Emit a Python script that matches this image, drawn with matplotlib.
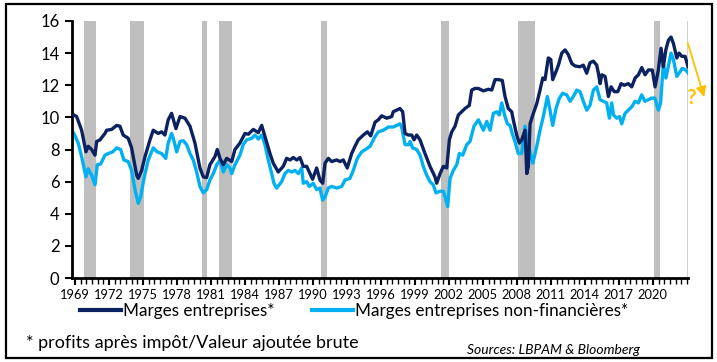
import matplotlib.pyplot as plt
from matplotlib.patches import Rectangle
from matplotlib.ticker import MultipleLocator

plt.rcParams['font.family'] = ['Lato', 'DejaVu Sans']

# Marges entreprises (after-tax profits / gross value added, %)
years_all = [1968.91, 1969.15, 1969.59, 1969.97, 1970.17, 1970.47, 1970.77, 1970.92, 1971.21, 1971.65,
             1971.80, 1972.24, 1972.68, 1972.97, 1973.26, 1973.70, 1974.00, 1974.45, 1974.59, 1974.89,
             1975.18, 1975.62, 1975.91, 1976.35, 1976.65, 1976.94, 1977.23, 1977.53, 1977.91, 1978.27,
             1978.71, 1979.15, 1979.59, 1980.03, 1980.32, 1980.62, 1980.91, 1981.35, 1981.56, 1981.80,
             1982.09, 1982.39, 1982.83, 1983.12, 1983.56, 1984.00, 1984.30, 1984.74, 1985.18, 1985.48,
             1985.77, 1986.21, 1986.50, 1986.94, 1987.38, 1987.68, 1987.98, 1988.27, 1988.57, 1988.86,
             1989.15, 1989.45, 1989.74, 1989.97, 1990.33, 1990.62, 1990.86, 1991.07, 1991.36, 1991.66,
             1992.10, 1992.39, 1992.68, 1993.03, 1993.42, 1993.71, 1994.00, 1994.45, 1994.80, 1995.10,
             1995.48, 1995.77, 1996.07, 1996.51, 1996.95, 1997.09, 1997.39, 1997.68, 1997.92, 1998.13,
             1998.42, 1998.72, 1998.92, 1999.16, 1999.45, 1999.89, 2000.33, 2000.77, 2000.92, 2001.22,
             2001.51, 2001.81, 2002.04, 2002.25, 2002.54, 2002.83, 2003.13, 2003.42, 2003.80, 2004.01,
             2004.30, 2004.60, 2005.04, 2005.48, 2005.78, 2006.07, 2006.36, 2006.71, 2006.95, 2007.24,
             2007.54, 2007.68, 2007.98, 2008.21, 2008.42, 2008.72, 2008.87, 2009.01, 2009.16, 2009.45,
             2009.75, 2010.04, 2010.28, 2010.48, 2010.77, 2010.99, 2011.16, 2011.45, 2011.66, 2011.96,
             2012.25, 2012.54, 2012.84, 2013.13, 2013.57, 2013.86, 2014.16, 2014.45, 2014.75, 2015.04,
             2015.19, 2015.34, 2015.49, 2015.78, 2016.07, 2016.31, 2016.60, 2016.90, 2017.19, 2017.48,
             2017.83, 2018.13, 2018.43, 2018.72, 2019.02, 2019.31, 2019.60, 2019.95, 2020.19, 2020.48,
             2020.72, 2020.92, 2021.14, 2021.37, 2021.60, 2021.81, 2022.11, 2022.31, 2022.55, 2022.84,
             2023.10]
marges_all = [10.15, 10.05, 9.2, 7.86, 8.2, 8.0, 7.65, 8.5, 8.6, 9.0,
              9.2, 9.25, 9.5, 9.45, 8.9, 8.7, 8.1, 6.4, 6.2, 6.7,
              7.55, 8.6, 9.2, 9.0, 9.1, 8.9, 9.85, 10.25, 9.3, 10.05,
              9.95, 9.45, 8.4, 6.85, 6.3, 6.25, 7.05, 7.55, 8.0, 7.45,
              7.05, 7.45, 7.25, 8.0, 8.4, 9.0, 8.95, 9.25, 9.05, 9.5,
              8.8, 7.75, 7.15, 6.6, 6.95, 7.45, 7.35, 7.5, 7.35, 7.5,
              6.95, 6.95, 6.5, 6.15, 6.85, 6.1, 5.9, 7.15, 7.45, 7.25,
              7.35, 7.25, 7.35, 6.85, 7.75, 8.2, 8.6, 8.9, 9.1, 8.85,
              9.7, 9.85, 10.1, 9.95, 10.05, 10.35, 10.45, 10.55, 10.35, 9.0,
              8.9, 8.9, 8.6, 8.9, 8.6, 7.75, 6.95, 6.3, 5.9, 6.5,
              6.95, 6.85, 8.6, 9.1, 9.45, 10.15, 10.35, 10.55, 10.75, 11.7,
              11.8, 11.8, 11.65, 11.75, 11.7, 12.35, 12.35, 12.3, 11.3, 10.55,
              10.35, 9.85, 8.9, 8.4, 8.6, 9.2, 6.5, 6.95, 9.6, 10.25,
              10.85, 11.7, 12.45, 12.35, 13.7, 13.6, 12.35, 12.85, 13.25, 14.0,
              14.2, 13.9, 13.35, 13.2, 13.15, 13.25, 12.75, 13.4, 13.5, 13.25,
              12.75, 12.1, 12.65, 12.55, 11.3, 11.9, 11.6, 11.6, 12.1, 12.0,
              12.1, 11.9, 12.45, 12.65, 13.1, 12.65, 12.95, 12.95, 11.9, 12.95,
              14.3, 13.15, 14.2, 14.8, 15.0, 14.6, 13.7, 14.0, 13.8, 13.8,
              13.15]

# Marges entreprises non-financieres
years_nf = [1968.91, 1969.29, 1969.59, 1969.97, 1970.17, 1970.47, 1970.77, 1970.97, 1971.27, 1971.65,
            1971.94, 1972.33, 1972.68, 1973.03, 1973.32, 1973.70, 1974.00, 1974.30, 1974.59, 1974.80,
            1975.09, 1975.47, 1975.91, 1976.26, 1976.65, 1977.01, 1977.23, 1977.53, 1977.68, 1977.98,
            1978.27, 1978.56, 1978.86, 1979.15, 1979.44, 1979.74, 1980.03, 1980.32, 1980.62, 1980.91,
            1981.21, 1981.51, 1981.80, 1982.09, 1982.39, 1982.68, 1982.83, 1983.12, 1983.56, 1983.85,
            1984.15, 1984.60, 1984.89, 1985.18, 1985.48, 1985.77, 1986.06, 1986.36, 1986.56, 1986.80,
            1987.24, 1987.53, 1987.83, 1988.13, 1988.42, 1988.71, 1989.01, 1989.15, 1989.45, 1989.68,
            1990.03, 1990.33, 1990.62, 1990.86, 1991.07, 1991.36, 1991.66, 1992.10, 1992.54, 1992.83,
            1993.27, 1993.56, 1993.92, 1994.30, 1994.74, 1995.04, 1995.48, 1995.77, 1996.21, 1996.65,
            1997.09, 1997.39, 1997.68, 1997.83, 1998.13, 1998.42, 1998.57, 1998.80, 1999.16, 1999.45,
            1999.74, 2000.04, 2000.33, 2000.62, 2000.86, 2001.22, 2001.51, 2001.74, 2001.89, 2002.10,
            2002.39, 2002.69, 2002.92, 2003.22, 2003.57, 2003.86, 2004.21, 2004.60, 2005.04, 2005.34,
            2005.63, 2005.92, 2006.22, 2006.45, 2006.66, 2006.95, 2007.16, 2007.39, 2007.63, 2007.83,
            2008.12, 2008.42, 2008.72, 2008.92, 2009.16, 2009.40, 2009.69, 2010.04, 2010.33, 2010.69,
            2010.92, 2011.16, 2011.45, 2011.75, 2012.04, 2012.40, 2012.69, 2012.98, 2013.28, 2013.57,
            2013.86, 2014.16, 2014.45, 2014.75, 2015.04, 2015.34, 2015.63, 2015.92, 2016.16, 2016.37,
            2016.52, 2016.81, 2017.05, 2017.25, 2017.54, 2017.84, 2018.13, 2018.42, 2018.72, 2019.01,
            2019.30, 2019.60, 2019.89, 2020.18, 2020.48, 2020.68, 2020.92, 2021.15, 2021.45, 2021.60,
            2021.81, 2022.11, 2022.31, 2022.60, 2022.90, 2023.13]
marges_nf = [9.0, 8.4, 7.55, 6.3, 6.8, 6.4, 5.8, 7.05, 7.1, 7.65,
             7.75, 7.85, 8.1, 8.0, 7.35, 7.25, 6.7, 5.5, 4.65, 5.05,
             6.2, 7.35, 8.1, 7.85, 7.75, 7.45, 8.4, 9.0, 8.7, 7.85,
             8.5, 8.55, 8.3, 7.75, 7.35, 6.6, 5.7, 5.3, 5.5, 6.1,
             6.5, 7.05, 7.35, 6.6, 7.05, 6.85, 6.5, 7.05, 7.65, 8.3,
             8.6, 8.7, 8.9, 8.65, 8.9, 8.3, 7.35, 6.5, 5.9, 5.6,
             6.0, 6.5, 6.7, 6.6, 6.7, 6.5, 6.85, 5.9, 6.0, 5.7,
             5.9, 5.5, 5.6, 4.85, 5.05, 5.6, 5.7, 5.6, 5.7, 6.1,
             6.2, 6.7, 7.45, 7.85, 8.05, 8.2, 8.8, 9.1, 9.2, 9.4,
             9.4, 9.5, 9.6, 9.4, 8.3, 8.3, 8.5, 8.1, 8.0, 7.65,
             6.95, 6.4, 6.0, 5.8, 5.3, 5.4, 5.4, 4.85, 4.45, 6.2,
             6.7, 7.05, 7.75, 7.65, 8.3, 8.5, 9.45, 9.85, 9.2, 9.75,
             9.2, 10.25, 10.35, 10.15, 10.9, 10.05, 9.6, 9.5, 8.9, 8.5,
             7.75, 7.75, 9.45, 8.6, 7.85, 7.15, 8.0, 9.2, 10.05, 11.3,
             10.45, 9.5, 10.55, 11.2, 11.5, 11.4, 11.0, 11.3, 11.7, 11.6,
             11.0, 10.45, 10.75, 11.7, 11.9, 11.1, 11.0, 10.9, 9.95, 10.9,
             10.15, 9.95, 10.05, 9.6, 10.25, 10.45, 10.65, 11.0, 10.9, 11.4,
             11.0, 11.1, 11.2, 11.2, 10.45, 10.9, 13.35, 12.45, 13.5, 14.0,
             13.6, 12.55, 12.75, 13.05, 12.95, 12.75]

# US recession periods (start, end)
recessions = [(1969.80, 1970.86), (1973.86, 1975.09), (1980.20, 1980.64), (1981.71, 1982.87),
              (1990.71, 1991.22), (2001.30, 2002.00), (2008.08, 2009.60), (2020.09, 2020.60)]

tick_years = list(range(1969, 2021, 3))

fig = plt.figure(figsize=(7.17, 3.62), dpi=100)
ax = fig.add_axes([0.1004, 0.232, 0.8592, 0.710])

for start, end in recessions:
    ax.axvspan(start, end, color='#bfbfbf', lw=0, zorder=0)
ax.axvline(2023.1, color='#c8c8c8', lw=1.2, zorder=0)

ax.plot(years_nf, marges_nf, color='#00b0f0', lw=2.4, zorder=2,
        label='Marges entreprises non-financières*')
ax.plot(years_all, marges_all, color='#0c2160', lw=2.4, zorder=3,
        label='Marges entreprises*')

ax.set_xlim(1968.74, 2023.1)
ax.set_ylim(0, 16)
ax.set_yticks(range(0, 17, 2))
ax.set_xticks(tick_years)
ax.xaxis.set_minor_locator(MultipleLocator(0.5))
ax.tick_params(axis='y', labelsize=12, width=1.5, length=5, pad=4)
ax.tick_params(axis='x', which='major', labelsize=9.3, width=1.5, length=5, pad=3)
ax.tick_params(axis='x', which='minor', width=1.0, length=4)

for side in ['top', 'right']:
    ax.spines[side].set_visible(False)
for side in ['left', 'bottom']:
    ax.spines[side].set_linewidth(2)

# yellow arrow and question mark
ax.annotate('', xy=(2024.6, 11.1), xytext=(2023.0, 14.8),
            arrowprops=dict(arrowstyle='-|>', color='#ffc000', lw=1.3, mutation_scale=15),
            annotation_clip=False)
ax.text(2023.4, 11.2, '?', color='#ffc000', fontsize=15, fontweight='bold',
        ha='center', va='center', clip_on=False)

handles, labels = ax.get_legend_handles_labels()
leg = fig.legend(handles[::-1], labels[::-1], loc='center', bbox_to_anchor=(0.494, 0.14),
                 ncol=2, frameon=False, fontsize=12.3, handlelength=2.4, columnspacing=2.2,
                 handletextpad=0.1)
for line in leg.get_lines():
    line.set_linewidth(3)

fig.text(0.036, 0.052, '* profits après impôt/Valeur ajoutée brute', fontsize=13,
         va='center', ha='left')
fig.text(0.651, 0.033, 'Sources: LBPAM & Bloomberg', fontsize=10, style='italic',
         va='center', ha='left')

fig.patches.append(Rectangle((0.008, 0.01), 0.985, 0.98, transform=fig.transFigure,
                             fill=False, ec='black', lw=1.6))

fig.savefig('out.png', dpi=100)
